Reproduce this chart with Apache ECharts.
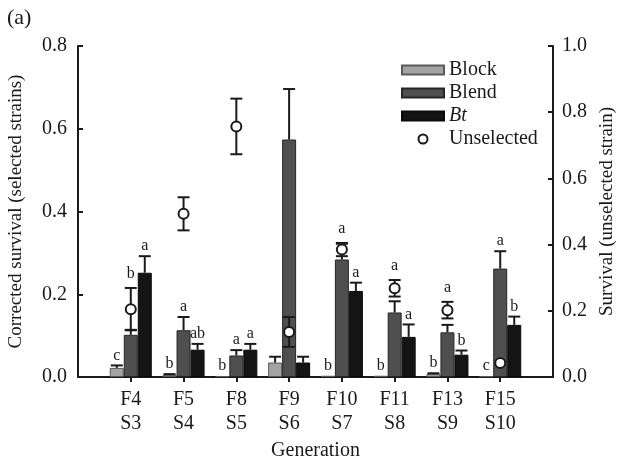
<!DOCTYPE html>
<html>
<head>
<meta charset="utf-8">
<script src="https://cdn.jsdelivr.net/npm/echarts@6.0.0/dist/echarts.min.js"></script>
<style>
  html, body { margin: 0; padding: 0; background: #fff; }
  #chart { width: 620px; height: 460px; }
</style>
</head>
<body>
<div id="chart"></div>
<script>
// Generations (F = field generation, S = selection round)
const generations = ['F4\nS3', 'F5\nS4', 'F8\nS5', 'F9\nS6', 'F10\nS7', 'F11\nS8', 'F13\nS9', 'F15\nS10'];

// Corrected survival of the selected strains (left axis), mean and upper SE
const blockMean = [0.022, 0.005, 0.002, 0.035, 0.003, 0.003, 0.007, 0.002];
const blockErr  = [0.006, 0.002, 0.000, 0.014, 0.000, 0.000, 0.002, 0.000];
const blendMean = [0.102, 0.113, 0.052, 0.574, 0.284, 0.156, 0.108, 0.262];
const blendErr  = [0.012, 0.032, 0.013, 0.122, 0.038, 0.027, 0.018, 0.042];
const btMean    = [0.252, 0.066, 0.066, 0.035, 0.208, 0.097, 0.054, 0.126];
const btErr     = [0.040, 0.014, 0.014, 0.014, 0.020, 0.030, 0.010, 0.020];

// Survival of the unselected strain (right axis), mean and SE
const unselMean = [0.205, 0.493, 0.757, 0.136, 0.385, 0.268, 0.202, 0.042];
const unselErr  = [0.064, 0.050, 0.084, 0.045, 0.020, 0.025, 0.025, 0.000];

// Significance letters within each generation
const blockLetters = ['c', 'b', 'b', '', 'b', 'b', 'b', 'c'];
const blendLetters = ['b', 'a', 'a', '', 'a', 'a', 'a', 'a'];
const btLetters    = ['a', 'ab', 'a', '', 'a', 'a', 'b', 'b'];

// Axis ranges
const leftMax = 0.8, leftStep = 0.2;
const rightMax = 1.0, rightStep = 0.2;

const SERIF = '"Liberation Serif", "DejaVu Serif", serif';
const INK = '#1a1a1a';
const BAR_W = 14;
const CAP_W = 12;

// one empty slot at each end of the generation axis
const axisCats = [''].concat(generations, ['']);
const pad = arr => ['-'].concat(arr, ['-']);
const triples = (m, e) => m.map((v, i) => [i + 1, v, e[i]]);

function upperErrorSeries(name, means, errs, offset) {
  return {
    type: 'custom', name: name, z: 3, silent: true,
    data: triples(means, errs),
    renderItem: (params, api) => {
      const i = api.value(0), m = api.value(1), e = api.value(2);
      if (!(e > 0)) return null;
      const p0 = api.coord([i, m]);
      const p1 = api.coord([i, m + e]);
      const x = p0[0] + offset;
      const st = { stroke: INK, lineWidth: 2 };
      return { type: 'group', children: [
        { type: 'line', shape: { x1: x, y1: p0[1], x2: x, y2: p1[1] }, style: st },
        { type: 'line', shape: { x1: x - CAP_W / 2, y1: p1[1], x2: x + CAP_W / 2, y2: p1[1] }, style: st }
      ]};
    }
  };
}

function letterSeries(name, means, errs, letters, offset, avoidUnselected) {
  return {
    type: 'custom', name: name, z: 6, silent: true,
    data: triples(means, errs),
    renderItem: (params, api) => {
      const k = params.dataIndex;
      const txt = letters[k];
      if (!txt) return null;
      const i = api.value(0);
      const p = api.coord([i, api.value(1) + api.value(2)]);
      let anchor = p[1];
      if (avoidUnselected) {
        // the unselected marker shares this x position; lift the letter above it
        const scale = leftMax / rightMax;
        const hi = api.coord([i, (unselMean[k] + unselErr[k]) * scale])[1] - 4;
        const lo = api.coord([i, (unselMean[k] - unselErr[k]) * scale])[1] + 4;
        if (lo > anchor - 18 && hi < anchor) anchor = hi;
      }
      return {
        type: 'text',
        x: p[0] + offset, y: anchor - 2,
        style: {
          text: txt, align: 'center', verticalAlign: 'bottom',
          fontSize: 16, fontFamily: SERIF, fill: INK
        }
      };
    }
  };
}

const chart = echarts.init(document.getElementById('chart'), null, { renderer: 'canvas' });

const option = {
  animation: false,
  backgroundColor: '#fff',
  textStyle: { fontFamily: SERIF, color: INK },
  grid: { left: 78, right: 67, top: 46, bottom: 83, outerBoundsMode: 'none', containLabel: false },
  graphic: [{
    type: 'text', left: 7, top: 7,
    style: { text: '(a)', fontSize: 22, fontFamily: SERIF, fill: INK }
  }],
  legend: {
    orient: 'vertical', left: 396, top: 55,
    itemWidth: 42, itemHeight: 9, itemGap: 3,
    textStyle: { fontSize: 20, fontFamily: SERIF, color: INK },
    data: [
      { name: 'Block', icon: 'rect' },
      { name: 'Blend', icon: 'rect' },
      { name: 'Bt', icon: 'rect', textStyle: { fontStyle: 'italic' } },
      { name: 'Unselected', icon: 'circle' }
    ]
  },
  xAxis: {
    type: 'category', data: axisCats, boundaryGap: false,
    name: 'Generation', nameLocation: 'middle', nameGap: 59,
    nameTextStyle: { fontSize: 20, fontFamily: SERIF, color: INK },
    axisLine: { lineStyle: { color: INK, width: 2 } },
    axisTick: { length: 5, lineStyle: { color: INK, width: 2 },
      interval: i => i > 0 && i < axisCats.length - 1 },
    axisLabel: { interval: 0, fontSize: 20, lineHeight: 24, margin: 11,
      fontFamily: SERIF, color: INK },
    splitLine: { show: false }
  },
  yAxis: [{
    type: 'value', min: 0, max: leftMax, interval: leftStep, position: 'left',
    name: 'Corrected survival (selected strains)', nameLocation: 'middle', nameGap: 52, nameRotate: 90,
    nameTextStyle: { fontSize: 19, fontFamily: SERIF, color: INK },
    axisLine: { show: true, lineStyle: { color: INK, width: 2 } },
    axisTick: { show: true, inside: true, length: 5, lineStyle: { color: INK, width: 2 } },
    axisLabel: { formatter: v => v.toFixed(1), fontSize: 20, margin: 11, fontFamily: SERIF, color: INK },
    splitLine: { show: false }
  }, {
    type: 'value', min: 0, max: rightMax, interval: rightStep, position: 'right',
    name: 'Survival (unselected strain)', nameLocation: 'middle', nameGap: 43, nameRotate: 90,
    nameTextStyle: { fontSize: 19, fontFamily: SERIF, color: INK },
    axisLine: { show: true, lineStyle: { color: INK, width: 2 } },
    axisTick: { show: true, inside: true, length: 5, lineStyle: { color: INK, width: 2 } },
    axisLabel: { formatter: v => v.toFixed(1), fontSize: 20, margin: 9, fontFamily: SERIF, color: INK },
    splitLine: { show: false }
  }],
  series: [
    { name: 'Block', type: 'bar', data: pad(blockMean), barWidth: BAR_W, barGap: '0%', z: 2,
      itemStyle: { color: '#a3a3a3', borderColor: '#5a5a5a', borderWidth: 1 } },
    { name: 'Blend', type: 'bar', data: pad(blendMean), barWidth: BAR_W, barGap: '0%', z: 2,
      itemStyle: { color: '#4f4f4f', borderColor: '#262626', borderWidth: 1 } },
    { name: 'Bt', type: 'bar', data: pad(btMean), barWidth: BAR_W, barGap: '0%', z: 2,
      itemStyle: { color: '#141414', borderColor: '#0a0a0a', borderWidth: 1 } },

    upperErrorSeries('blockErr', blockMean, blockErr, -BAR_W),
    upperErrorSeries('blendErr', blendMean, blendErr, 0),
    upperErrorSeries('btErr', btMean, btErr, BAR_W),

    // unselected strain: two-sided error bars on the right axis
    {
      type: 'custom', name: 'unselErr', yAxisIndex: 1, z: 4, silent: true,
      data: triples(unselMean, unselErr),
      renderItem: (params, api) => {
        const i = api.value(0), m = api.value(1), e = api.value(2);
        if (!(e > 0)) return null;
        const hi = api.coord([i, m + e]);
        const lo = api.coord([i, m - e]);
        const x = hi[0];
        const st = { stroke: INK, lineWidth: 2 };
        return { type: 'group', children: [
          { type: 'line', shape: { x1: x, y1: lo[1], x2: x, y2: hi[1] }, style: st },
          { type: 'line', shape: { x1: x - CAP_W / 2, y1: hi[1], x2: x + CAP_W / 2, y2: hi[1] }, style: st },
          { type: 'line', shape: { x1: x - CAP_W / 2, y1: lo[1], x2: x + CAP_W / 2, y2: lo[1] }, style: st }
        ]};
      }
    },
    { name: 'Unselected', type: 'scatter', yAxisIndex: 1, z: 5,
      data: pad(unselMean), symbol: 'circle', symbolSize: 10,
      itemStyle: { color: '#ffffff', borderColor: INK, borderWidth: 2, opacity: 1 } },

    letterSeries('blockLetters', blockMean, blockErr, blockLetters, -BAR_W, false),
    letterSeries('blendLetters', blendMean, blendErr, blendLetters, 0, true),
    letterSeries('btLetters', btMean, btErr, btLetters, BAR_W, false)
  ]
};

chart.setOption(option);
</script>
</body>
</html>
